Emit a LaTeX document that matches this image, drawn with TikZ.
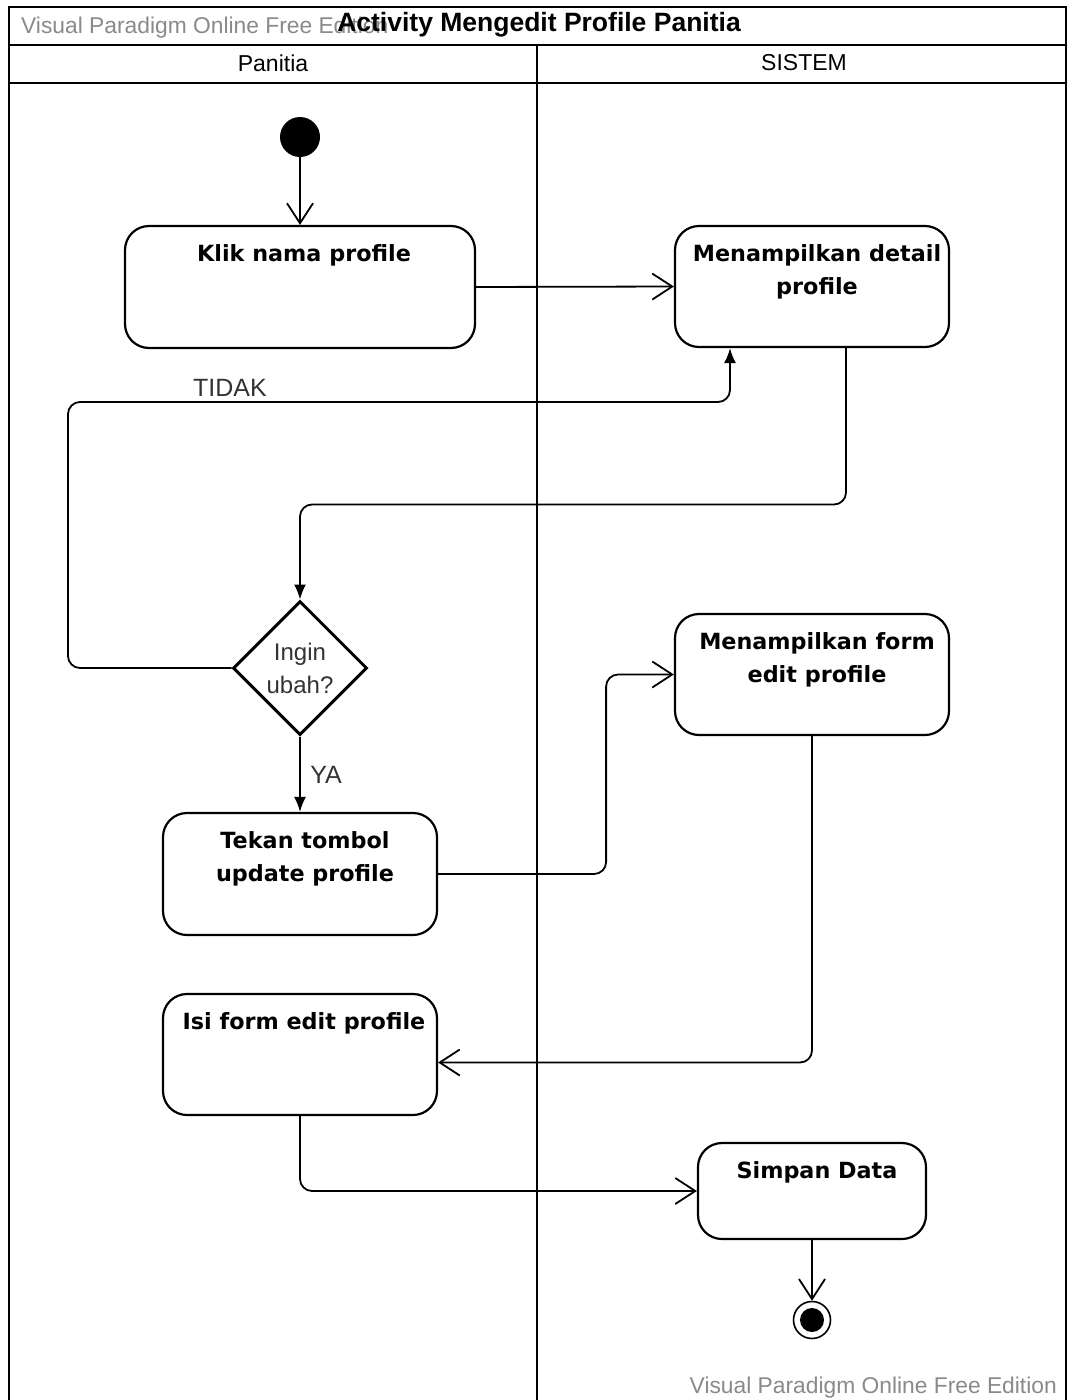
\documentclass[tikz,border=0pt]{standalone}
\usepackage{fontspec}
\setmainfont{Liberation Sans}
\newfontfamily\actfont{DejaVu Sans}
\usetikzlibrary{arrows.meta,shapes.geometric,calc}

\definecolor{wmgray}{HTML}{8A8A8A}
\definecolor{lblgray}{HTML}{333333}

\tikzset{
  frame/.style={line width=2pt, draw=black},
  actbox/.style={draw, line width=2.2pt, rounded corners=24pt, inner sep=0pt},
  acttext/.style={anchor=north, inner sep=0pt, align=center,
    font=\actfont\bfseries\fontsize{22.3}{33}\selectfont},
  flow/.style={line width=1.8pt, rounded corners=12pt},
  openarrow/.style={flow, -{Straight Barb[length=20pt,width=26pt,line width=1.8pt]}},
  solidarrow/.style={flow, -{Latex[length=15pt,width=12pt]}},
  guard/.style={text=lblgray, font=\fontsize{25}{28}\selectfont, inner sep=0pt},
  watermark/.style={text=wmgray, font=\fontsize{22.8}{26}\selectfont, inner sep=0pt},
  lanehead/.style={inner sep=0pt, font=\fontsize{23}{26}\selectfont},
}

\begin{document}
\begin{tikzpicture}[x=1pt,y=-1pt]
\useasboundingbox (0,0) rectangle (1074,1400);
\fill[white] (0,0) rectangle (1074,1400);

% swimlane frame
\draw[frame] (9,1400) -- (9,7) -- (1066,7) -- (1066,1400);
\draw[frame] (9,45) -- (1066,45);
\draw[frame] (9,83) -- (1066,83);
\draw[frame] (537,45) -- (537,1400);

% watermarks and headings
\node[watermark, anchor=west] (wmtop) at (21,28) {Visual Paradigm Online Free Edition};
\node[watermark, anchor=east] (wmbot) at (1057,1388) {Visual Paradigm Online Free Edition};
\node[inner sep=0pt, font=\bfseries\fontsize{26.5}{30}\selectfont] (title) at (539,25) {Activity Mengedit Profile Panitia};
\node[lanehead] (lane1) at (273,63) {Panitia};
\node[lanehead] (lane2) at (804,63) {SISTEM};

% initial and final nodes
\node[circle, fill=black, minimum size=40pt, inner sep=0pt] (start) at (300,137) {};
\node[circle, draw, line width=1.6pt, minimum size=37pt, inner sep=0pt] (end) at (812,1320) {};
\node[circle, fill=black, minimum size=24pt, inner sep=0pt] (endcore) at (end) {};

% actions
\node[actbox, minimum width=350pt, minimum height=122pt] (klik) at (300,287) {};
\node[acttext] (kliktxt) at ($(klik.north)+(4,19.5)$) {Klik nama profile};

\node[actbox, minimum width=274pt, minimum height=121pt] (mdetail) at (812,286.5) {};
\node[acttext] (mdetailtxt) at ($(mdetail.north)+(5,19.5)$) {Menampilkan detail\\profile};

\node[draw, diamond, line width=3pt, minimum width=134pt, minimum height=134pt, inner sep=0pt,
      align=center, text=lblgray, font=\fontsize{24}{33}\selectfont] (dec) at (300,668) {Ingin\\ubah?};

\node[actbox, minimum width=274pt, minimum height=121pt] (mform) at (812,674.5) {};
\node[acttext] (mformtxt) at ($(mform.north)+(5,19.5)$) {Menampilkan form\\edit profile};

\node[actbox, minimum width=274pt, minimum height=122pt] (tekan) at (300,874) {};
\node[acttext] (tekantxt) at ($(tekan.north)+(5,19.5)$) {Tekan tombol\\update profile};

\node[actbox, minimum width=274pt, minimum height=121pt] (isi) at (300,1054.5) {};
\node[acttext] (isitxt) at ($(isi.north)+(4,19.5)$) {Isi form edit profile};

\node[actbox, minimum width=228pt, minimum height=96pt] (simpan) at (812,1191) {};
\node[acttext] (simpantxt) at ($(simpan.north)+(5,19.5)$) {Simpan Data};

% control flows
\draw[openarrow] (start) -- (klik);
\draw[openarrow] (klik.east) -- (mdetail.west);
\draw[solidarrow] ($(mdetail.south)+(34,0)$) |- ($(dec.north)+(0,-95)$) -- (dec.north);
\coordinate (loopturn) at (68,402);
\draw[solidarrow] (dec.west) -| (loopturn) -| ($(mdetail.south)+(-82,0)$);
\node[guard] (tidak) at (230,388) {TIDAK};
\draw[solidarrow] (dec.south) -- (tekan.north);
\node[guard] (ya) at (326,775) {YA};
\draw[openarrow] (tekan.east) -- ++(168,0) |- (mform.west);
\draw[openarrow] (mform.south) |- ($(isi.east)+(0,8)$);
\draw[openarrow] (isi.south) |- (simpan.west);
\draw[openarrow] (simpan.south) -- (end.north);
\end{tikzpicture}
\end{document}
